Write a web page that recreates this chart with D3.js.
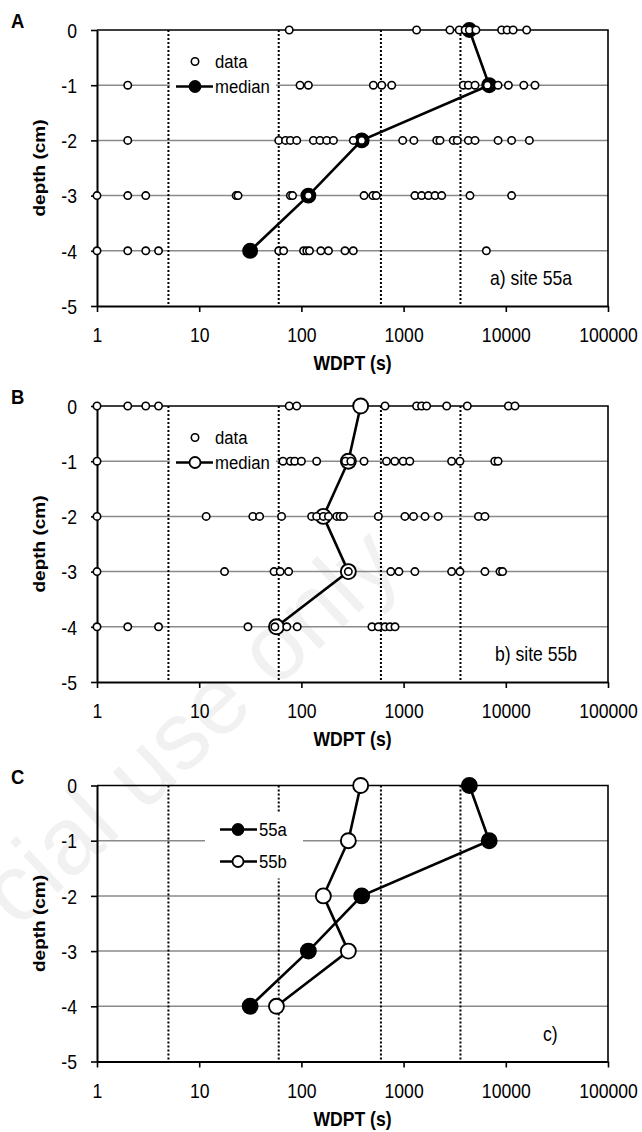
<!DOCTYPE html>
<html>
<head>
<meta charset="utf-8">
<script src="https://cdn.jsdelivr.net/npm/d3@7"></script>
<style>
  html, body { margin: 0; padding: 0; background: #fff; }
  svg { display: block; font-family: "Liberation Sans", Arial, sans-serif; }
</style>
</head>
<body>
<svg id="chart" width="642" height="1132"></svg>
<script>
// WDPT (water drop penetration time) depth profiles, sites 55a and 55b

const depths      = [0, -1, -2, -3, -4];
const xTicks      = [1, 10, 100, 1000, 10000, 100000];
const yTicks      = [0, -1, -2, -3, -4, -5];
const classLimits = [5, 60, 600, 3600];   // dotted WDPT class borders (s)

// raw WDPT readings (s), one array per depth
const site55a = [
  [76, 1340, 2840, 3500, 4000, 4400, 5100, 9100, 10300, 11800, 16000],
  [2, 97, 117, 506, 611, 765, 3840, 4300, 5000, 6600, 8400, 10600, 15000, 19300],
  [2, 60, 70, 78, 90, 131, 152, 177, 206, 322, 389, 980, 1260, 2110, 2270, 3060, 3350, 4300, 5000, 8400, 11400, 17000],
  [1, 2, 3, 23, 24, 78, 82, 117, 410, 500, 540, 1290, 1500, 1750, 2030, 2360, 4460, 11400],
  [1, 2, 3, 4, 60, 67, 105, 113, 120, 155, 184, 267, 322, 6450]
];
const median55a = [4400, 6880, 389, 117, 31.5];

const site55b = [
  [1, 2, 3, 4, 76, 90, 658, 1340, 1500, 1680, 2640, 4200, 10600, 12300],
  [1, 66, 78, 86, 100, 141, 270, 305, 410, 680, 820, 990, 1150, 2950, 3560, 7800, 8400],
  [1, 11.7, 33.5, 39, 64, 126, 141, 164, 184, 222, 239, 258, 566, 1030, 1250, 1620, 2180, 5400, 6250],
  [1, 17.7, 54, 62, 75, 288, 750, 900, 1290, 2950, 3560, 6250, 8770, 9300],
  [1, 2, 4, 30, 55, 72, 91, 490, 566, 658, 736, 824]
];
const median55b = [380, 288, 164, 288, 57];

const panels = [
  { letter: "A", top: 30,    raw: site55a, median: median55a, fill: "#000", label: "a) site 55a", labelX: 490 },
  { letter: "B", top: 406,   raw: site55b, median: median55b, fill: "#fff", label: "b) site 55b", labelX: 495 },
  { letter: "C", top: 785.5, raw: null,                                      label: "c)",          labelX: 543 }
];

const W = { left: 97, right: 608, height: 276 };
const SQ = 0.88;  // the original lettering is slightly condensed

const svg = d3.select("#chart");
const x = d3.scaleLog().domain([1, 1e5]).range([W.left, W.right]);

// watermark of the source scan
svg.append("text")
  .attr("transform", "translate(18,930) rotate(-43)")
  .attr("font-size", 96)
  .attr("fill", "#f1f1f1")
  .text("cial use only");

function condensed(sel, tx, ty) {
  return sel.attr("transform", `translate(${tx},${ty}) scale(${SQ},1)`);
}

function drawLine(g, y, vals, fill, r) {
  const pts = vals.map((v, i) => [x(v), y(depths[i])]);
  g.append("path")
    .attr("d", d3.line()(pts))
    .attr("fill", "none")
    .attr("stroke", "#000")
    .attr("stroke-width", 2.6);
  g.selectAll(null).data(vals).join("circle")
    .attr("cx", d => x(d))
    .attr("cy", (d, i) => y(depths[i]))
    .attr("r", r)
    .attr("fill", fill)
    .attr("stroke", "#000")
    .attr("stroke-width", 1.9);
}

panels.forEach(p => {
  const y = d3.scaleLinear().domain([0, -5]).range([p.top, p.top + W.height]);
  const g = svg.append("g");

  // gridlines
  g.selectAll(null).data([-1, -2, -3, -4]).join("line")
    .attr("x1", W.left).attr("x2", W.right)
    .attr("y1", d => y(d)).attr("y2", d => y(d))
    .attr("stroke", "#8a8a8a").attr("stroke-width", 1.5);

  const legendBox = p.raw
    ? { x: 170, y: p.top + 15, w: 106, h: 56 }
    : { x: 205, y: p.top + 27, w: 98, h: 66 };

  if (p.raw) g.append("rect").attr("x", legendBox.x).attr("y", legendBox.y)
    .attr("width", legendBox.w).attr("height", legendBox.h).attr("fill", "#fff");

  // class borders
  g.selectAll(null).data(classLimits).join("line")
    .attr("x1", d => x(d)).attr("x2", d => x(d))
    .attr("y1", y(0)).attr("y2", y(-5))
    .attr("stroke", "#000").attr("stroke-width", 2)
    .attr("stroke-dasharray", "2,2");

  if (!p.raw) g.append("rect").attr("x", legendBox.x).attr("y", legendBox.y)
    .attr("width", legendBox.w).attr("height", legendBox.h).attr("fill", "#fff");

  // frame top and right
  g.append("path")
    .attr("d", `M${W.left},${y(0)}H${W.right}V${y(-5)}`)
    .attr("fill", "none").attr("stroke", "#000").attr("stroke-width", 1.6);

  // axes
  const ax = g.append("g")
    .attr("transform", `translate(0,${y(-5)})`)
    .call(d3.axisBottom(x).tickValues(xTicks).tickFormat(d3.format("d")).tickSizeInner(6).tickSizeOuter(0));
  const ay = g.append("g")
    .attr("transform", `translate(${W.left},0)`)
    .call(d3.axisLeft(y).tickValues(yTicks).tickFormat(d => String(d)).tickSizeInner(6).tickSizeOuter(0));
  [ax, ay].forEach(a => {
    a.select(".domain").attr("stroke-width", 2);
    a.selectAll(".tick line").attr("stroke-width", 1.6);
    a.selectAll("text").attr("font-size", 20).attr("fill", "#000")
      .attr("font-family", "Liberation Sans, Arial, sans-serif");
  });
  ax.selectAll("text").attr("y", 0).attr("dy", 0)
    .attr("transform", `translate(0,36) scale(${SQ},1)`);
  ay.selectAll("text").attr("x", 0).attr("dy", "0.36em")
    .attr("transform", `translate(-20,0) scale(${SQ},1)`);

  if (p.raw) {
    drawLine(g, y, p.median, p.fill, p.fill === "#000" ? 7 : 7.5);
    // individual readings on top
    p.raw.forEach((row, i) => {
      g.selectAll(null).data(row).join("circle")
        .attr("cx", d => x(d)).attr("cy", y(depths[i]))
        .attr("r", 3.7).attr("fill", "#fff")
        .attr("stroke", "#000").attr("stroke-width", 1.6);
    });
    // legend
    const lg = g.append("g");
    lg.append("circle").attr("cx", 195).attr("cy", p.top + 31.5).attr("r", 3.7)
      .attr("fill", "#fff").attr("stroke", "#000").attr("stroke-width", 1.6);
    lg.append("line").attr("x1", 176).attr("x2", 213)
      .attr("y1", p.top + 56.5).attr("y2", p.top + 56.5)
      .attr("stroke", "#000").attr("stroke-width", 2.6);
    lg.append("circle").attr("cx", 195).attr("cy", p.top + 56.5).attr("r", 5.5)
      .attr("fill", p.fill).attr("stroke", "#000").attr("stroke-width", 1.8);
    condensed(lg.append("text").attr("font-size", 19).text("data"), 215, p.top + 38);
    condensed(lg.append("text").attr("font-size", 19).text("median"), 215, p.top + 63);
  } else {
    drawLine(g, y, median55a, "#000", 7.5);
    drawLine(g, y, median55b, "#fff", 7.5);
    const lg = g.append("g");
    [["55a", "#000", 44], ["55b", "#fff", 76]].forEach(([name, fill, dy]) => {
      lg.append("line").attr("x1", 220).attr("x2", 257)
        .attr("y1", p.top + dy).attr("y2", p.top + dy)
        .attr("stroke", "#000").attr("stroke-width", 2.6);
      lg.append("circle").attr("cx", 238).attr("cy", p.top + dy).attr("r", 5.5)
        .attr("fill", fill).attr("stroke", "#000").attr("stroke-width", 1.8);
      condensed(lg.append("text").attr("font-size", 19).text(name), 259, p.top + dy + 6.5);
    });
  }

  // labels
  condensed(g.append("text").attr("font-size", 20).text(p.label), p.labelX, y(-4.5) + 7);
  condensed(g.append("text").attr("font-size", 21).attr("font-weight", "bold").text(p.letter), 11, p.top - 2);
  g.append("text")
    .attr("transform", `translate(45,${y(-2.5)}) rotate(-90) scale(1,${SQ})`)
    .attr("text-anchor", "middle")
    .attr("font-size", 19).attr("font-weight", "bold")
    .text("depth (cm)");
  condensed(g.append("text").attr("font-size", 20).attr("font-weight", "bold")
    .attr("text-anchor", "middle").text("WDPT (s)"), (W.left + W.right) / 2, y(-5) + 64);
});
</script>
</body>
</html>
